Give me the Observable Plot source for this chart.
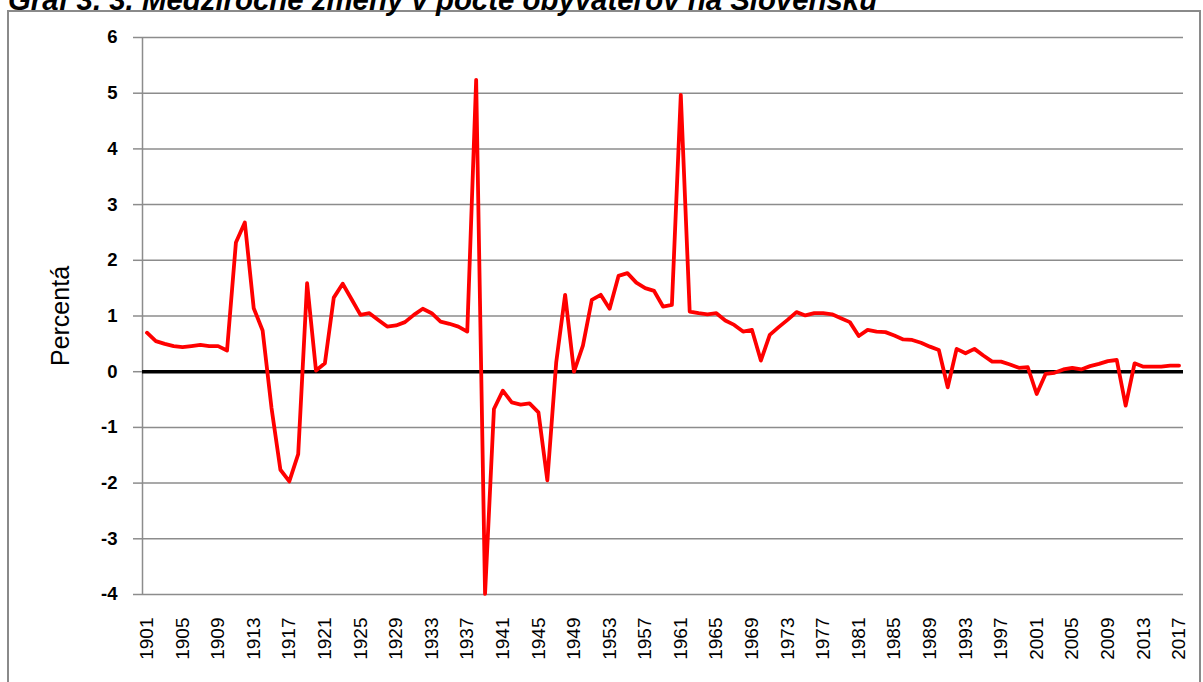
<!DOCTYPE html>
<html>
<head>
<meta charset="utf-8">
<script src="https://cdn.jsdelivr.net/npm/d3@7"></script>
<script src="https://cdn.jsdelivr.net/npm/@observablehq/plot@0.6"></script>
<style>
  html, body { margin: 0; padding: 0; background: #fff; width: 1203px; height: 682px; overflow: hidden; }
  #frame { position: absolute; left: 7px; top: 10px; width: 1194px; height: 720px; border: 2px solid #8a8a8a; box-sizing: border-box; }
  #title { position: absolute; left: 8px; top: -15px; font-family: "Liberation Sans", Arial, sans-serif; font-weight: bold; font-style: italic; font-size: 29.4px; line-height: 1; white-space: nowrap; color: #000; }
  #chart { position: absolute; left: 0; top: 0; }
</style>
</head>
<body>
<div id="frame"></div>
<div id="title">Graf 3. 3. Medziročné zmeny v počte obyvateľov na Slovensku</div>
<div id="chart"></div>
<script>
const firstYear = 1901;
const lastYear = 2017;
const years = d3.range(firstYear, lastYear + 1);
const change = [
  0.70, 0.55, 0.50, 0.46, 0.44, 0.46, 0.48, 0.46, 0.46, 0.38,
  2.32, 2.68, 1.14, 0.74, -0.65, -1.76, -1.97, -1.48, 1.59, 0.02,
  0.15, 1.33, 1.58, 1.30, 1.02, 1.05, 0.93, 0.81, 0.83, 0.89,
  1.02, 1.13, 1.05, 0.90, 0.86, 0.81, 0.72, 5.24, -3.99, -0.67,
  -0.34, -0.55, -0.59, -0.57, -0.73, -1.95, 0.17, 1.38, 0.00, 0.47,
  1.29, 1.38, 1.13, 1.72, 1.77, 1.60, 1.50, 1.45, 1.17, 1.20,
  4.97, 1.08, 1.05, 1.03, 1.05, 0.92, 0.84, 0.72, 0.75, 0.20,
  0.66, 0.80, 0.93, 1.07, 1.01, 1.05, 1.05, 1.03, 0.96, 0.89,
  0.64, 0.75, 0.72, 0.71, 0.65, 0.58, 0.57, 0.52, 0.45, 0.39,
  -0.28, 0.41, 0.33, 0.41, 0.29, 0.18, 0.18, 0.13, 0.07, 0.08,
  -0.40, -0.04, -0.02, 0.04, 0.07, 0.04, 0.10, 0.14, 0.19, 0.21,
  -0.61, 0.15, 0.09, 0.09, 0.09, 0.11, 0.11
];
const yTicks = [-4, -3, -2, -1, 0, 1, 2, 3, 4, 5, 6];
const xTickYears = d3.range(firstYear, lastYear + 1, 4);
const yLabel = "Percentá";

const data = years.map((year, i) => ({year, value: change[i]}));

const chart = Plot.plot({
  width: 1203,
  height: 682,
  marginLeft: 142,
  marginRight: 20,
  marginTop: 37,
  marginBottom: 88,
  style: {fontFamily: "'Liberation Sans', Arial, sans-serif", background: "transparent", color: "#000", overflow: "visible"},
  x: {type: "linear", domain: [firstYear - 0.5, lastYear + 0.5]},
  y: {domain: [yTicks[0], yTicks[yTicks.length - 1]]},
  marks: [
    Plot.gridY(yTicks, {stroke: "#8c8c8c", strokeOpacity: 1, strokeWidth: 1.5}),
    Plot.axisY(yTicks, {tickSize: 9, tickPadding: 16, stroke: "#8c8c8c", strokeWidth: 1.5, fontWeight: "bold", fontSize: 18.5, label: null, tickFormat: d => String(d).replace("−", "-")}),
    Plot.ruleX([firstYear - 0.5], {y1: yTicks[0], y2: yTicks[yTicks.length - 1], stroke: "#8c8c8c", strokeWidth: 1.5}),
    Plot.ruleY([0], {stroke: "#000", strokeWidth: 3.5}),
    Plot.line(data, {x: "year", y: "value", stroke: "#ff0000", strokeWidth: 3.8, strokeLinejoin: "round"}),
    Plot.axisX(xTickYears, {tickSize: 0, tickPadding: 23, tickRotate: -90, tickFormat: d => String(d), fontSize: 19, label: null}),
    Plot.text([yLabel], {frameAnchor: "left", textAnchor: "middle", dx: -82, rotate: -90, fontSize: 25, fill: "#000"})
  ]
});
document.getElementById("chart").appendChild(chart);
</script>
</body>
</html>
